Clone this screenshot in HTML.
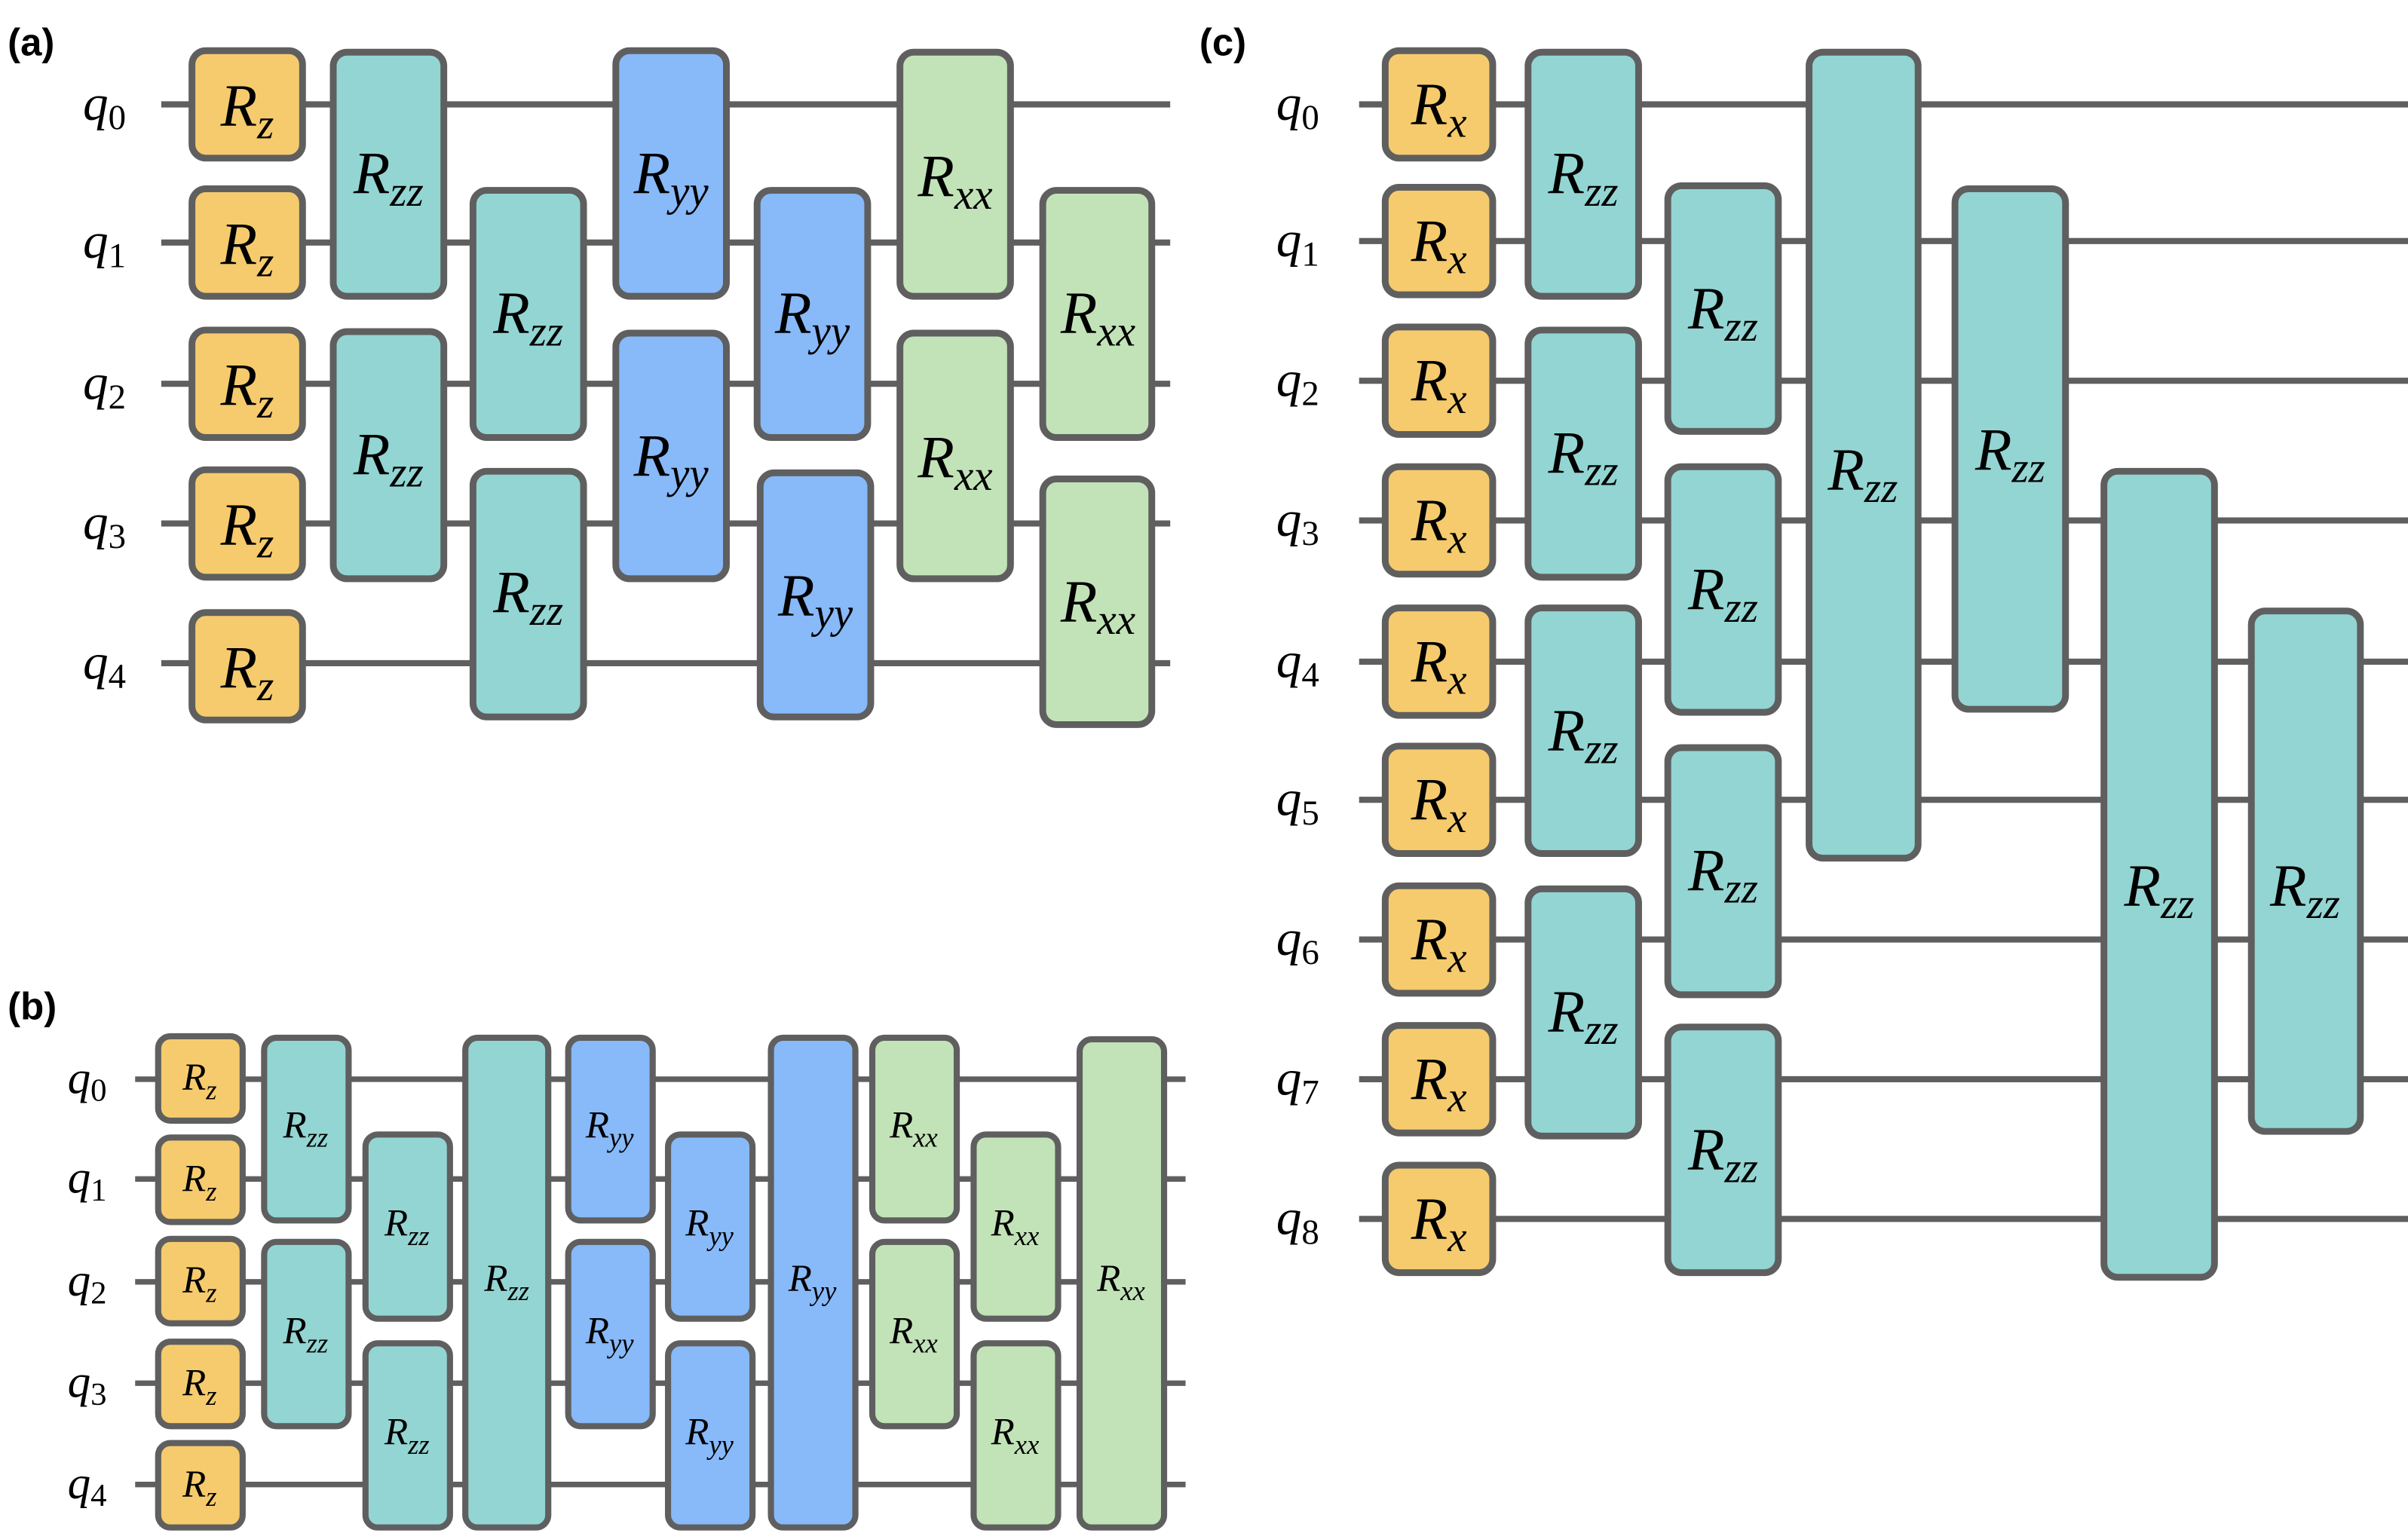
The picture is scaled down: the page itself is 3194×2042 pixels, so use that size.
<!DOCTYPE html>
<html><head><meta charset="utf-8">
<style>
html,body{margin:0;padding:0;background:#fff;}
svg{display:block;}
.w{stroke:#5f5f5f;stroke-width:4;fill:none;}
.wb{stroke:#5f5f5f;stroke-width:3.6;fill:none;}
rect{stroke:#5f5f5f;stroke-width:4.4;}
.o{fill:#f6cb6d}.t{fill:#93d5d3}.b{fill:#88b9f9}.g{fill:#c2e3b8}
.L{font-family:"Liberation Serif",serif;font-style:italic;font-size:39px;fill:#000;text-anchor:middle;}
.L tspan{font-size:28px;}
.M{font-family:"Liberation Serif",serif;font-style:italic;font-size:25px;fill:#000;text-anchor:middle;}
.M tspan{font-size:18px;}
.Q{font-family:"Liberation Serif",serif;font-style:italic;font-size:33px;fill:#000;}
.Q tspan{font-style:normal;font-size:23px;}
.Qb{font-family:"Liberation Serif",serif;font-style:italic;font-size:30px;fill:#000;}
.Qb tspan{font-style:normal;font-size:21px;}
.P{font-family:"Liberation Sans",sans-serif;font-weight:bold;font-size:25px;fill:#000;}
</style></head><body>
<svg width="3194" height="2042" viewBox="0 0 1568 1002.5" preserveAspectRatio="none" xmlns="http://www.w3.org/2000/svg">
<text class="P" x="5" y="36">(a)</text>
<g class="w">
<line x1="105" y1="68" x2="762" y2="68"/><line x1="105" y1="158" x2="762" y2="158"/>
<line x1="105" y1="250" x2="762" y2="250"/><line x1="105" y1="341" x2="762" y2="341"/>
<line x1="105" y1="432" x2="762" y2="432"/>
</g>
<text class="Q" x="54" y="78">q<tspan dy="6">0</tspan></text>
<text class="Q" x="54" y="168">q<tspan dy="6">1</tspan></text>
<text class="Q" x="54" y="260">q<tspan dy="6">2</tspan></text>
<text class="Q" x="54" y="351">q<tspan dy="6">3</tspan></text>
<text class="Q" x="54" y="442">q<tspan dy="6">4</tspan></text>
<g>
<rect class="o" x="125" y="33" width="72" height="70" rx="9"/>
<rect class="o" x="125" y="123" width="72" height="70" rx="9"/>
<rect class="o" x="125" y="215" width="72" height="70" rx="9"/>
<rect class="o" x="125" y="306" width="72" height="70" rx="9"/>
<rect class="o" x="125" y="399" width="72" height="70" rx="9"/>
<rect class="t" x="217" y="34" width="72" height="159" rx="9"/>
<rect class="t" x="217" y="216" width="72" height="161" rx="9"/>
<rect class="t" x="308" y="124" width="72" height="161" rx="9"/>
<rect class="t" x="308" y="307" width="72" height="160" rx="9"/>
<rect class="b" x="401" y="33" width="72" height="160" rx="9"/>
<rect class="b" x="401" y="217" width="72" height="160" rx="9"/>
<rect class="b" x="493" y="124" width="72" height="161" rx="9"/>
<rect class="b" x="495" y="308" width="72" height="159" rx="9"/>
<rect class="g" x="586" y="34" width="72" height="159" rx="9"/>
<rect class="g" x="586" y="217" width="72" height="160" rx="9"/>
<rect class="g" x="679" y="124" width="71" height="161" rx="9"/>
<rect class="g" x="679" y="312" width="71" height="160" rx="9"/>
</g>
<g class="L">
<text x="161" y="82">R<tspan dy="8">z</tspan></text>
<text x="161" y="172">R<tspan dy="8">z</tspan></text>
<text x="161" y="264">R<tspan dy="8">z</tspan></text>
<text x="161" y="355">R<tspan dy="8">z</tspan></text>
<text x="161" y="448">R<tspan dy="8">z</tspan></text>
<text x="253" y="126">R<tspan dy="8">zz</tspan></text>
<text x="253" y="309">R<tspan dy="8">zz</tspan></text>
<text x="344" y="217">R<tspan dy="8">zz</tspan></text>
<text x="344" y="399">R<tspan dy="8">zz</tspan></text>
<text x="437" y="126">R<tspan dy="8">yy</tspan></text>
<text x="437" y="310">R<tspan dy="8">yy</tspan></text>
<text x="529" y="217">R<tspan dy="8">yy</tspan></text>
<text x="531" y="401">R<tspan dy="8">yy</tspan></text>
<text x="622" y="128">R<tspan dy="8">xx</tspan></text>
<text x="622" y="311">R<tspan dy="8">xx</tspan></text>
<text x="715" y="217">R<tspan dy="8">xx</tspan></text>
<text x="715" y="405">R<tspan dy="8">xx</tspan></text>
</g>

<text class="P" x="5" y="664">(b)</text>
<g class="wb">
<line x1="88" y1="703" x2="772" y2="703"/><line x1="88" y1="768" x2="772" y2="768"/>
<line x1="88" y1="835" x2="772" y2="835"/><line x1="88" y1="901" x2="772" y2="901"/>
<line x1="88" y1="967" x2="772" y2="967"/>
</g>
<text class="Qb" x="44" y="712">q<tspan dy="5">0</tspan></text>
<text class="Qb" x="44" y="777">q<tspan dy="5">1</tspan></text>
<text class="Qb" x="44" y="844">q<tspan dy="5">2</tspan></text>
<text class="Qb" x="44" y="910">q<tspan dy="5">3</tspan></text>
<text class="Qb" x="44" y="976">q<tspan dy="5">4</tspan></text>
<g>
<rect class="o" x="103" y="675" width="55" height="55" rx="8" style="stroke-width:4"/>
<rect class="o" x="103" y="741" width="55" height="55" rx="8" style="stroke-width:4"/>
<rect class="o" x="103" y="807" width="55" height="55" rx="8" style="stroke-width:4"/>
<rect class="o" x="103" y="874" width="55" height="55" rx="8" style="stroke-width:4"/>
<rect class="o" x="103" y="940" width="55" height="55" rx="8" style="stroke-width:4"/>
<rect class="t" x="172" y="676" width="55" height="119" rx="8" style="stroke-width:4"/>
<rect class="t" x="172" y="809" width="55" height="120" rx="8" style="stroke-width:4"/>
<rect class="t" x="238" y="739" width="55" height="120" rx="8" style="stroke-width:4"/>
<rect class="t" x="238" y="875" width="55" height="120" rx="8" style="stroke-width:4"/>
<rect class="t" x="303" y="676" width="54" height="319" rx="8" style="stroke-width:4"/>
<rect class="b" x="370" y="676" width="55" height="119" rx="8" style="stroke-width:4"/>
<rect class="b" x="370" y="809" width="55" height="120" rx="8" style="stroke-width:4"/>
<rect class="b" x="435" y="739" width="55" height="120" rx="8" style="stroke-width:4"/>
<rect class="b" x="435" y="875" width="55" height="120" rx="8" style="stroke-width:4"/>
<rect class="b" x="502" y="676" width="55" height="319" rx="8" style="stroke-width:4"/>
<rect class="g" x="568" y="676" width="55" height="119" rx="8" style="stroke-width:4"/>
<rect class="g" x="568" y="809" width="55" height="120" rx="8" style="stroke-width:4"/>
<rect class="g" x="634" y="739" width="55" height="120" rx="8" style="stroke-width:4"/>
<rect class="g" x="634" y="875" width="55" height="120" rx="8" style="stroke-width:4"/>
<rect class="g" x="703" y="677" width="55" height="318" rx="8" style="stroke-width:4"/>
</g>
<g class="M">
<text x="130" y="710">R<tspan dy="6">z</tspan></text>
<text x="130" y="776">R<tspan dy="6">z</tspan></text>
<text x="130" y="842">R<tspan dy="6">z</tspan></text>
<text x="130" y="909">R<tspan dy="6">z</tspan></text>
<text x="130" y="975">R<tspan dy="6">z</tspan></text>
<text x="199" y="741">R<tspan dy="6">zz</tspan></text>
<text x="199" y="875">R<tspan dy="6">zz</tspan></text>
<text x="265" y="805">R<tspan dy="6">zz</tspan></text>
<text x="265" y="941">R<tspan dy="6">zz</tspan></text>
<text x="330" y="841">R<tspan dy="6">zz</tspan></text>
<text x="397" y="741">R<tspan dy="6">yy</tspan></text>
<text x="397" y="875">R<tspan dy="6">yy</tspan></text>
<text x="462" y="805">R<tspan dy="6">yy</tspan></text>
<text x="462" y="941">R<tspan dy="6">yy</tspan></text>
<text x="529" y="841">R<tspan dy="6">yy</tspan></text>
<text x="595" y="741">R<tspan dy="6">xx</tspan></text>
<text x="595" y="875">R<tspan dy="6">xx</tspan></text>
<text x="661" y="805">R<tspan dy="6">xx</tspan></text>
<text x="661" y="941">R<tspan dy="6">xx</tspan></text>
<text x="730" y="841">R<tspan dy="6">xx</tspan></text>
</g>

<text class="P" x="781" y="36">(c)</text>
<g class="w">
<line x1="885" y1="68" x2="1568" y2="68"/><line x1="885" y1="157" x2="1568" y2="157"/>
<line x1="885" y1="248" x2="1568" y2="248"/><line x1="885" y1="339" x2="1568" y2="339"/>
<line x1="885" y1="431" x2="1568" y2="431"/><line x1="885" y1="521" x2="1568" y2="521"/>
<line x1="885" y1="612" x2="1568" y2="612"/><line x1="885" y1="703" x2="1568" y2="703"/>
<line x1="885" y1="794" x2="1568" y2="794"/>
</g>
<text class="Q" x="831" y="78">q<tspan dy="6">0</tspan></text>
<text class="Q" x="831" y="167">q<tspan dy="6">1</tspan></text>
<text class="Q" x="831" y="258">q<tspan dy="6">2</tspan></text>
<text class="Q" x="831" y="349">q<tspan dy="6">3</tspan></text>
<text class="Q" x="831" y="441">q<tspan dy="6">4</tspan></text>
<text class="Q" x="831" y="531">q<tspan dy="6">5</tspan></text>
<text class="Q" x="831" y="622">q<tspan dy="6">6</tspan></text>
<text class="Q" x="831" y="713">q<tspan dy="6">7</tspan></text>
<text class="Q" x="831" y="804">q<tspan dy="6">8</tspan></text>
<g>
<rect class="o" x="902" y="33" width="70" height="70" rx="9"/>
<rect class="o" x="902" y="122" width="70" height="70" rx="9"/>
<rect class="o" x="902" y="213" width="70" height="70" rx="9"/>
<rect class="o" x="902" y="304" width="70" height="70" rx="9"/>
<rect class="o" x="902" y="396" width="70" height="70" rx="9"/>
<rect class="o" x="902" y="486" width="70" height="70" rx="9"/>
<rect class="o" x="902" y="577" width="70" height="70" rx="9"/>
<rect class="o" x="902" y="668" width="70" height="70" rx="9"/>
<rect class="o" x="902" y="759" width="70" height="70" rx="9"/>
<rect class="t" x="995" y="34" width="72" height="159" rx="9"/>
<rect class="t" x="995" y="215" width="72" height="161" rx="9"/>
<rect class="t" x="995" y="396" width="72" height="160" rx="9"/>
<rect class="t" x="995" y="579" width="72" height="161" rx="9"/>
<rect class="t" x="1086" y="121" width="72" height="160" rx="9"/>
<rect class="t" x="1086" y="304" width="72" height="160" rx="9"/>
<rect class="t" x="1086" y="487" width="72" height="161" rx="9"/>
<rect class="t" x="1086" y="669" width="72" height="160" rx="9"/>
<rect class="t" x="1178" y="34" width="71" height="525" rx="9"/>
<rect class="t" x="1273" y="123" width="72" height="339" rx="9"/>
<rect class="t" x="1370" y="307" width="72" height="525" rx="9"/>
<rect class="t" x="1466" y="398" width="71" height="339" rx="9"/>
</g>
<g class="L">
<text x="937" y="81">R<tspan dy="8">x</tspan></text>
<text x="937" y="170">R<tspan dy="8">x</tspan></text>
<text x="937" y="261">R<tspan dy="8">x</tspan></text>
<text x="937" y="352">R<tspan dy="8">x</tspan></text>
<text x="937" y="444">R<tspan dy="8">x</tspan></text>
<text x="937" y="534">R<tspan dy="8">x</tspan></text>
<text x="937" y="625">R<tspan dy="8">x</tspan></text>
<text x="937" y="716">R<tspan dy="8">x</tspan></text>
<text x="937" y="807">R<tspan dy="8">x</tspan></text>
<text x="1031" y="126">R<tspan dy="8">zz</tspan></text>
<text x="1031" y="308">R<tspan dy="8">zz</tspan></text>
<text x="1031" y="489">R<tspan dy="8">zz</tspan></text>
<text x="1031" y="672">R<tspan dy="8">zz</tspan></text>
<text x="1122" y="214">R<tspan dy="8">zz</tspan></text>
<text x="1122" y="397">R<tspan dy="8">zz</tspan></text>
<text x="1122" y="580">R<tspan dy="8">zz</tspan></text>
<text x="1122" y="762">R<tspan dy="8">zz</tspan></text>
<text x="1213" y="319">R<tspan dy="8">zz</tspan></text>
<text x="1309" y="306">R<tspan dy="8">zz</tspan></text>
<text x="1406" y="590">R<tspan dy="8">zz</tspan></text>
<text x="1501" y="590">R<tspan dy="8">zz</tspan></text>
</g>
</svg>
</body></html>
